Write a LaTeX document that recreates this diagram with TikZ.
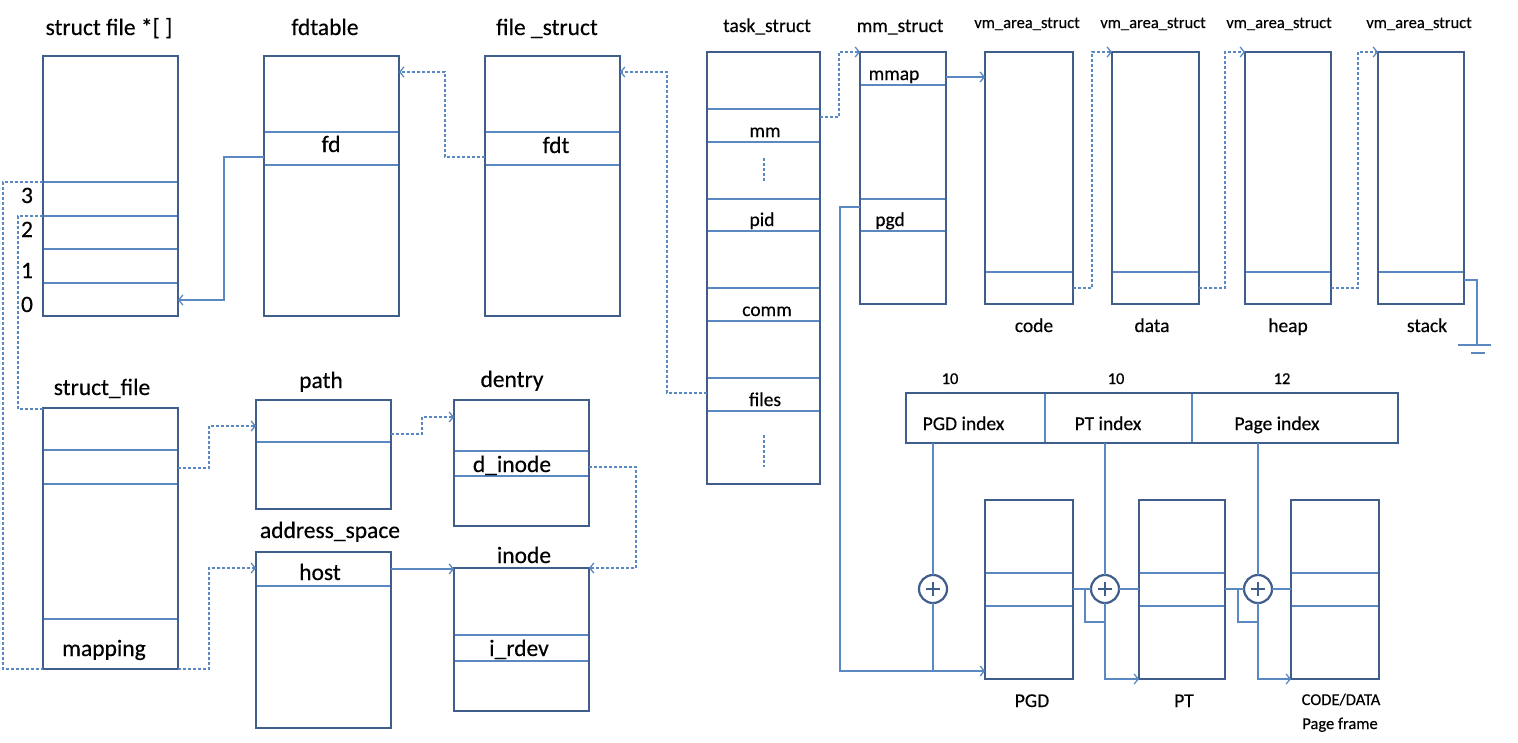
\documentclass[tikz,border=0pt]{standalone}
\usepackage{fontspec}
\setmainfont{Carlito}[FakeBold=0.35]
\usetikzlibrary{arrows.meta}
\definecolor{boxc}{HTML}{3F5E8C}
\definecolor{linec}{HTML}{5A88C2}
\newcommand\Lf{\fontsize{23.5}{27}\selectfont}
\newcommand\Mf{\fontsize{19.5}{23}\selectfont}
\newcommand\Sf{\fontsize{16.5}{19}\selectfont}
\tikzset{
 sbox/.style={draw=boxc, line width=2.7pt, inner sep=0pt, outer sep=0pt, fill=white},
 rowl/.style={draw=linec, line width=1.3pt},
 scon/.style={draw=linec, line width=1.3pt},
 dcon/.style={draw=linec, line width=1.3pt, dash pattern=on 3pt off 2pt},
 arr/.style={-{Straight Barb[length=4pt,width=10pt,line width=1.3pt]}},
 lbl/.style={inner sep=0pt, anchor=base, font=\Lf},
 mlbl/.style={inner sep=0pt, anchor=base, font=\Mf},
 slbl/.style={inner sep=0pt, anchor=base, font=\Sf},
 pluscirc/.style={circle, draw=boxc, line width=2.2pt, minimum size=28pt, inner sep=0pt, outer sep=0pt, fill=white},
}
\begin{document}
\begin{tikzpicture}[x=1pt,y=-1pt]
\useasboundingbox[fill=white] (0,0) rectangle (1518,742);

% ---------- boxes ----------
\node[sbox, minimum width=135pt, minimum height=260pt] (A) at (110.5,186) {};
\node[sbox, minimum width=135pt, minimum height=260pt] (B) at (331.5,186) {};
\node[sbox, minimum width=135pt, minimum height=260pt] (C) at (552.5,186) {};
\node[sbox, minimum width=113pt, minimum height=432pt] (D) at (763.5,268) {};
\node[sbox, minimum width=86pt, minimum height=252pt] (E) at (903,178) {};
\node[sbox, minimum width=88pt, minimum height=252pt] (V1) at (1029,178) {};
\node[sbox, minimum width=87pt, minimum height=252pt] (V2) at (1155.5,178) {};
\node[sbox, minimum width=86pt, minimum height=252pt] (V3) at (1288,178) {};
\node[sbox, minimum width=86pt, minimum height=252pt] (V4) at (1421,178) {};
\node[sbox, minimum width=492pt, minimum height=50pt] (bar) at (1152,418) {};
\node[sbox, minimum width=88pt, minimum height=179pt] (PGD) at (1029,589.5) {};
\node[sbox, minimum width=86pt, minimum height=179pt] (PT) at (1182,589.5) {};
\node[sbox, minimum width=88pt, minimum height=179pt] (FR) at (1335,589.5) {};
\node[sbox, minimum width=135pt, minimum height=261pt] (F) at (110.5,538.5) {};
\node[sbox, minimum width=135pt, minimum height=109pt] (G) at (323.5,454.5) {};
\node[sbox, minimum width=135pt, minimum height=126pt] (H) at (521.5,463) {};
\node[sbox, minimum width=135pt, minimum height=176pt] (I) at (323.5,640) {};
\node[sbox, minimum width=135pt, minimum height=143pt] (J) at (521.5,639.5) {};

% ---------- rows ----------
\foreach \y in {182,216,249,283} \draw[rowl] (44,\y) -- (177,\y);
\foreach \y in {132,165} {\draw[rowl] (265,\y) -- (398,\y); \draw[rowl] (486,\y) -- (619,\y);}
\foreach \y in {109,142,199,231,288,321,378,411} \draw[rowl] (708,\y) -- (819,\y);
\draw[dcon] (764,158) -- (764,182);
\draw[dcon] (764,435) -- (764,467);
\foreach \y in {85,199,231} \draw[rowl] (861,\y) -- (945,\y);
\draw[rowl] (986,272) -- (1072,272);
\draw[rowl] (1113,272) -- (1198,272);
\draw[rowl] (1246,272) -- (1330,272);
\draw[rowl] (1379,272) -- (1463,272);
\draw[rowl] (1045,394) -- (1045,442);
\draw[rowl] (1192,394) -- (1192,442);
\foreach \y in {573,606} {\draw[rowl] (986,\y) -- (1072,\y); \draw[rowl] (1140,\y) -- (1224,\y); \draw[rowl] (1292,\y) -- (1378,\y);}
\foreach \y in {450,484,619} \draw[rowl] (44,\y) -- (177,\y);
\draw[rowl] (257,442) -- (390,442);
\foreach \y in {451,476} \draw[rowl] (455,\y) -- (588,\y);
\draw[rowl] (257,586) -- (390,586);
\foreach \y in {635,661} \draw[rowl] (455,\y) -- (588,\y);

% ---------- titles ----------
\node[lbl] (tA) at (109,35) {struct file *[ ]};
\node[lbl] (tB) at (325,35) {fdtable};
\node[lbl] (tC) at (547,35) {file \_struct};
\node[mlbl] (tD) at (767,32) {task\_struct};
\node[mlbl] (tE) at (900,32) {mm\_struct};
\node[slbl] (tV1) at (1027,28) {vm\_area\_struct};
\node[slbl] (tV2) at (1153,28) {vm\_area\_struct};
\node[slbl] (tV3) at (1279,28) {vm\_area\_struct};
\node[slbl] (tV4) at (1419,28) {vm\_area\_struct};
\node[mlbl] (lcode) at (1034,332) {code};
\node[mlbl] (ldata) at (1152,332) {data};
\node[mlbl] (lheap) at (1288,332) {heap};
\node[mlbl] (lstack) at (1427,332) {stack};
\node[lbl] (tF) at (102,395) {struct\_file};
\node[lbl] (tG) at (321,388) {path};
\node[lbl] (tH) at (512,387) {dentry};
\node[lbl] (tI) at (330,538) {address\_space};
\node[lbl] (tJ) at (524,563) {inode};

% ---------- field labels ----------
\node[lbl] (n3) at (27,203) {3};
\node[lbl] (n2) at (27,237) {2};
\node[lbl] (n1) at (27,278) {1};
\node[lbl] (n0) at (27,312) {0};
\node[lbl] (lfd) at (331,152) {fd};
\node[lbl] (lfdt) at (556,153) {fdt};
\node[mlbl] (lmm) at (765,137) {mm};
\node[mlbl] (lpid) at (762,226) {pid};
\node[mlbl] (lcomm) at (767,316) {comm};
\node[mlbl] (lfiles) at (765,406) {files};
\node[mlbl] (lmmap) at (894,80) {mmap};
\node[mlbl] (lpgd) at (890,226) {pgd};
\node[lbl] (lmapping) at (104,656) {mapping};
\node[lbl] (ldinode) at (512,472) {d\_inode};
\node[lbl] (lhost) at (320,580) {host};
\node[lbl] (lirdev) at (519,656) {i\_rdev};
\node[mlbl] (lpgdi) at (963.5,430) {PGD index};
\node[mlbl] (lpti) at (1108,430) {PT index};
\node[mlbl] (lpgi) at (1277,430) {Page index};
\node[slbl] (b1) at (950,384) {10};
\node[slbl] (b2) at (1116,384) {10};
\node[slbl] (b3) at (1282,384) {12};
\node[mlbl] (lPGD) at (1032,707) {PGD};
\node[mlbl] (lPT) at (1184,707) {PT};
\node[slbl] (lcd) at (1341,705) {CODE/DATA};
\node[slbl] (lpf) at (1340,729) {Page frame};

% ---------- connectors (left) ----------
\draw[scon,arr] (B.west |- 0,157) -| (224,300) -- (A.east |- 0,300);
\draw[dcon,arr] (C.west |- 0,157) -| (445,72) -- (B.east |- 0,72);
\draw[dcon,arr] (D.west |- 0,393) -| (667,72) -- (C.east |- 0,72);
\draw[dcon] (A.west |- 0,182) -| (3,669) -- (F.west |- 0,669);
\draw[dcon] (A.west |- 0,216) -| (18,409) -- (F.west |- 0,409);
\draw[dcon,arr] (F.east |- 0,468) -| (209,426) -- (G.west |- 0,426);
\draw[dcon,arr] (G.east |- 0,434) -| (422,417) -- (H.west |- 0,417);
\draw[dcon,arr] (H.east |- 0,467) -| (636,568) -- (J.east |- 0,568);
\draw[dcon,arr] (F.east |- 0,669) -| (209,568) -- (I.west |- 0,568);
\draw[scon,arr] (I.east |- 0,569) -- (J.west |- 0,569);

% ---------- connectors (right top) ----------
\draw[dcon,arr] (D.east |- 0,117) -| (839,52) -- (E.west |- 0,52);
\draw[scon,arr] (E.east |- 0,77) -- (V1.west |- 0,77);
\draw[dcon,arr] (V1.east |- 0,288) -| (1092,52) -- (V2.west |- 0,52);
\draw[dcon,arr] (V2.east |- 0,288) -| (1225,52) -- (V3.west |- 0,52);
\draw[dcon,arr] (V3.east |- 0,288) -| (1358,52) -- (V4.west |- 0,52);
\coordinate (gnd) at (1477,345);
\draw[scon] (V4.east |- 0,280) -| (gnd);
\draw[scon] (1458,345) -- (1491,345);
\draw[scon] (1471,353) -- (1485,353);

% ---------- page translation ----------
\node[pluscirc] (p1) at (933,589) {};
\node[pluscirc] (p2) at (1105,589) {};
\node[pluscirc] (p3) at (1258,589) {};
\foreach \p in {p1,p2,p3} {
  \draw[draw=boxc, line width=2pt] ([xshift=-7pt]\p.center) -- ([xshift=7pt]\p.center);
  \draw[draw=boxc, line width=2pt] ([yshift=-7pt]\p.center) -- ([yshift=7pt]\p.center);
}
\draw[scon,arr] (E.west |- 0,207) -| (840,671) -- (PGD.west |- 0,671);
\draw[scon] (bar.south -| p1) -- (p1.north);
\draw[scon] (p1.south) -- (933,671);
\draw[scon] (bar.south -| p2) -- (p2.north);
\draw[scon,arr] (p2.south) |- (PT.west |- 0,679);
\draw[scon] (bar.south -| p3) -- (p3.north);
\draw[scon,arr] (p3.south) |- (FR.west |- 0,679);
\draw[scon] (PGD.east |- p2) -- (p2.west);
\draw[scon] (p2.east) -- (PT.west |- p2);
\draw[scon] (1085,589) |- (1105,622);
\draw[scon] (PT.east |- p3) -- (p3.west);
\draw[scon] (p3.east) -- (FR.west |- p3);
\draw[scon] (1238,589) |- (1258,622);
\end{tikzpicture}
\end{document}
